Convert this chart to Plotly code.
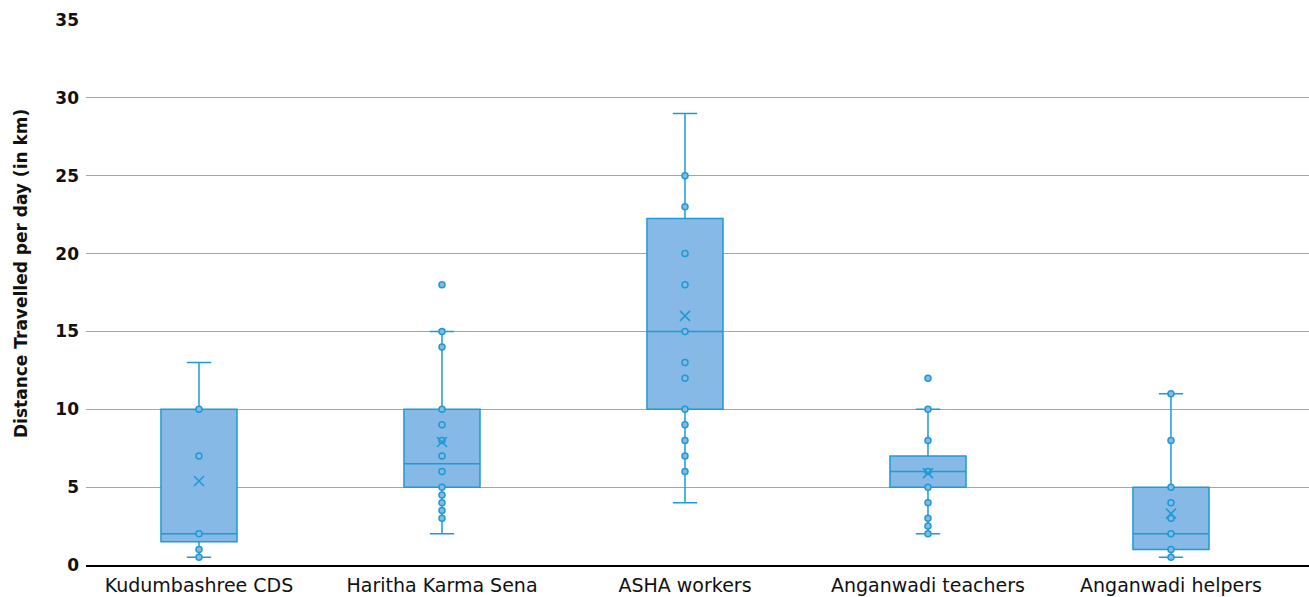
import plotly.graph_objects as go

# Groups of workers
categories = ["Kudumbashree CDS", "Haritha Karma Sena", "ASHA workers",
              "Anganwadi teachers", "Anganwadi helpers"]

# Box summary statistics (km per day)
q1 = [1.5, 5, 10, 5, 1]
median = [2, 6.5, 15, 6, 2]
q3 = [10, 10, 22.25, 7, 5]
lower_fence = [0.5, 2, 4, 2, 0.5]
upper_fence = [13, 15, 29, 10, 11]
mean = [5.4, 7.9, 16, 5.9, 3.3]

# Individual responses
pts_kudumbashree = [10, 7, 2, 1, 0.5]
pts_haritha = [18, 15, 14, 10, 9, 8, 7, 6, 5, 4.5, 4, 3.5, 3]
pts_asha = [25, 23, 20, 18, 15, 13, 12, 10, 9, 8, 7, 6]
pts_teachers = [12, 10, 8, 6, 5, 4, 3, 2.5, 2]
pts_helpers = [11, 8, 5, 4, 3, 2, 1, 0.5]

y_ticks = [0, 5, 10, 15, 20, 25, 30, 35]
y_title = "Distance Travelled per day (in km)"

LINE = "#1f9ad6"
FILL = "#86b9e6"
FONT = "DejaVu Sans, Noto Sans, sans-serif"

fig = go.Figure()

fig.add_trace(go.Box(
    x=categories, q1=q1, median=median, q3=q3,
    lowerfence=lower_fence, upperfence=upper_fence,
    width=0.313, whiskerwidth=0.32,
    fillcolor=FILL, line=dict(color=LINE, width=1.5),
    boxpoints=False, showlegend=False, hoverinfo="skip",
))

all_points = [pts_kudumbashree, pts_haritha, pts_asha, pts_teachers, pts_helpers]
px, py = [], []
for cat, vals in zip(categories, all_points):
    px += [cat] * len(vals)
    py += vals

fig.add_trace(go.Scatter(
    x=px, y=py, mode="markers", showlegend=False,
    marker=dict(symbol="circle", size=6, color=FILL,
                line=dict(color=LINE, width=1.5)),
))

fig.add_trace(go.Scatter(
    x=categories, y=mean, mode="markers", showlegend=False,
    marker=dict(symbol="x-thin", size=10,
                line=dict(color=LINE, width=1.5)),
))

# Vertical axis title, placed as a rotated annotation
fig.add_annotation(
    text=y_title, textangle=-90, showarrow=False,
    xref="paper", yref="paper", x=-86 / 1223, y=(565 - 274) / 545,
    xanchor="left", yanchor="middle", xshift=9,
    font=dict(size=17, color="#111111", weight="bold"),
)

fig.update_layout(
    width=1309, height=597,
    margin=dict(l=86, r=0, t=20, b=32),
    paper_bgcolor="white", plot_bgcolor="white",
    font=dict(family=FONT, color="#111111"),
    xaxis=dict(
        type="category", categoryorder="array", categoryarray=categories,
        range=[-0.465, 4.568],
        showgrid=False, showline=True, linecolor="#000000", linewidth=1.5,
        ticks="", tickfont=dict(size=19, color="#111111"),
        ticklabelstandoff=2,
        zeroline=False,
    ),
    yaxis=dict(
        range=[0, 35], tickvals=y_ticks, ticktext=[str(v) for v in y_ticks],
        showgrid=True, gridcolor="#a6a6a6", gridwidth=1,
        zeroline=False, showline=False, ticks="",
        tickfont=dict(size=17, color="#111111", weight="bold"),
        ticklabelstandoff=6,
    ),
)

fig.write_html("out.html")
